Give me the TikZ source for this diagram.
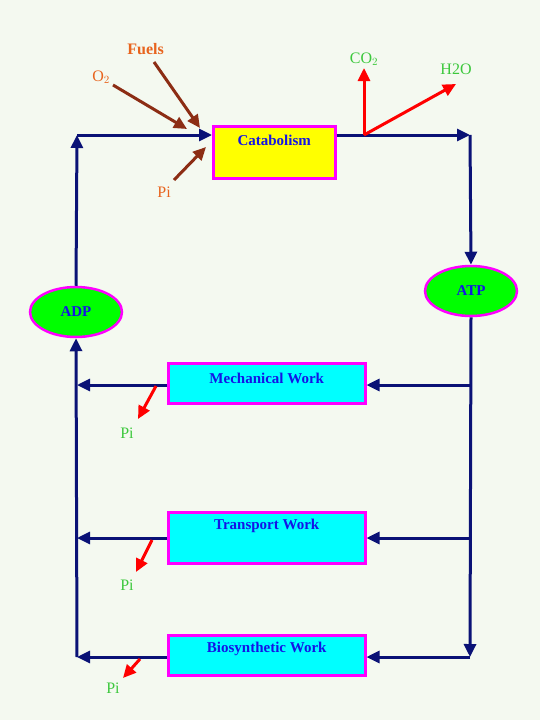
\documentclass[tikz,border=0pt]{standalone}
\usepackage{fontspec}
\setmainfont{Liberation Serif}
\usetikzlibrary{arrows.meta,positioning,shapes.geometric}

\definecolor{bgcol}{RGB}{244,249,240}
\definecolor{navy}{RGB}{10,18,118}
\definecolor{labelorange}{RGB}{232,100,30}
\definecolor{labelgreen}{RGB}{60,200,60}
\definecolor{boxtext}{RGB}{20,20,230}
\definecolor{brownarrow}{RGB}{140,45,20}
\definecolor{boxmagenta}{RGB}{255,0,255}
\definecolor{boxcyan}{RGB}{0,255,255}
\definecolor{boxyellow}{RGB}{255,255,0}
\definecolor{ovalgreen}{RGB}{0,255,0}

\tikzset{
  box/.style={draw=boxmagenta, line width=2.5pt, anchor=north west, inner sep=0pt},
  boxtitle/.style={text=boxtext, font=\fontsize{15}{17}\selectfont\bfseries, inner sep=0pt},
  oval/.style={ellipse, draw=boxmagenta, line width=2.5pt, fill=ovalgreen, text=boxtext, font=\fontsize{15}{17}\selectfont\bfseries, minimum width=92pt, minimum height=50pt, inner sep=0pt},
  flow/.style={draw=navy, line width=3pt, -{Triangle[length=13pt,width=12pt]}},
  input/.style={draw=brownarrow, line width=3pt, -{Triangle[length=13pt,width=12pt]}},
  output/.style={draw=red, line width=3pt, -{Triangle[length=13pt,width=12pt]}},
  inlabel/.style={text=labelorange, font=\fontsize{16}{18}\selectfont, inner sep=1pt},
  outlabel/.style={text=labelgreen, font=\fontsize{16}{18}\selectfont, inner sep=1pt},
}

\begin{document}
\begin{tikzpicture}[x=1pt, y=-1pt]
  \fill[bgcol] (0,0) rectangle (540,720);
  \useasboundingbox (0,0) rectangle (540,720);

  % boxes
  \node [box, fill=boxyellow, minimum width=122pt, minimum height=52pt] (cat) at (212,125) {};
  \node [boxtitle] (catt) at ([yshift=-15pt]cat.north) {Catabolism};
  \node [box, fill=boxcyan, minimum width=197pt, minimum height=40pt] (mech) at (167,362) {};
  \node [boxtitle] (mecht) at ([yshift=-16pt]mech.north) {Mechanical Work};
  \node [box, fill=boxcyan, minimum width=197pt, minimum height=51pt] (trans) at (167,511) {};
  \node [boxtitle] (transt) at ([yshift=-15pt]trans.north) {Transport Work};
  \node [box, fill=boxcyan, minimum width=197pt, minimum height=40pt] (bio) at (167,634) {};
  \node [boxtitle] (biot) at ([yshift=-15pt]bio.north) {Biosynthetic Work};

  \node [oval] (adp) at (76,312) {ADP};
  \node [oval] (atp) at (471,291) {ATP};

  % corners
  \coordinate (tl) at (77,135);
  \coordinate (tr) at (470,135);
  \coordinate (br) at (470,657);
  \coordinate (bl) at (77,657);
  \coordinate (mr) at (470,385);
  \coordinate (ml) at (77,385);
  \coordinate (tlr) at (470,538);
  \coordinate (tll) at (77,538);

  % main cycle
  \draw [flow] (adp.north) -- (tl);
  \draw [flow] (tl) -- (tl -| cat.west);
  \draw [flow] (tl -| cat.east) -- (tr);
  \draw [flow] (tr) -- (atp.north);
  \draw [flow] (atp.south) -- (br);
  \draw [flow] (mr) -- (mr -| mech.east);
  \draw [flow] (mr -| mech.west) -- (ml);
  \draw [flow] (tlr) -- (tlr -| trans.east);
  \draw [flow] (tlr -| trans.west) -- (tll);
  \draw [flow] (br) -- (br -| bio.east);
  \draw [flow] (br -| bio.west) -- (bl);
  \draw [flow] (bl) -- (adp.south);

  % inputs to catabolism
  \coordinate (fuelsa) at (154,62);
  \coordinate (o2a) at (113,85);
  \coordinate (pia) at (174,180);
  \node [inlabel, above left=6pt and -11pt of fuelsa, font=\fontsize{16}{18}\selectfont\bfseries] (fuels) {Fuels};
  \node [inlabel, above left=0pt and 2pt of o2a] (o2) {O$_2$};
  \node [inlabel, below left=6pt and 2pt of pia] (pi) {Pi};
  \draw [input] (fuelsa) -- (200,128);
  \draw [input] (o2a) -- (187,129);
  \draw [input] (pia) -- (206,147);

  % outputs of catabolism
  \coordinate (outa) at (364,135);
  \coordinate (co2a) at (364,68);
  \coordinate (h2oa) at (456,84);
  \node [outlabel, above=1pt of co2a] (co2) {CO$_2$};
  \node [outlabel, above=8pt of h2oa] (h2o) {H2O};
  \draw [output] (outa) -- (co2a);
  \draw [output] (outa) -- (h2oa);

  % phosphate released
  \coordinate (pm) at (156,386);
  \coordinate (pt) at (152,540);
  \coordinate (pb) at (140,659);
  \draw [output] (pm) -- (138,419);
  \draw [output] (pt) -- (136,572);
  \draw [output] (pb) -- (123,678);
  \node [outlabel] (pim) at (127,433) {Pi};
  \node [outlabel] (pit) at (127,585) {Pi};
  \node [outlabel] (pib) at (113,688) {Pi};
\end{tikzpicture}
\end{document}
